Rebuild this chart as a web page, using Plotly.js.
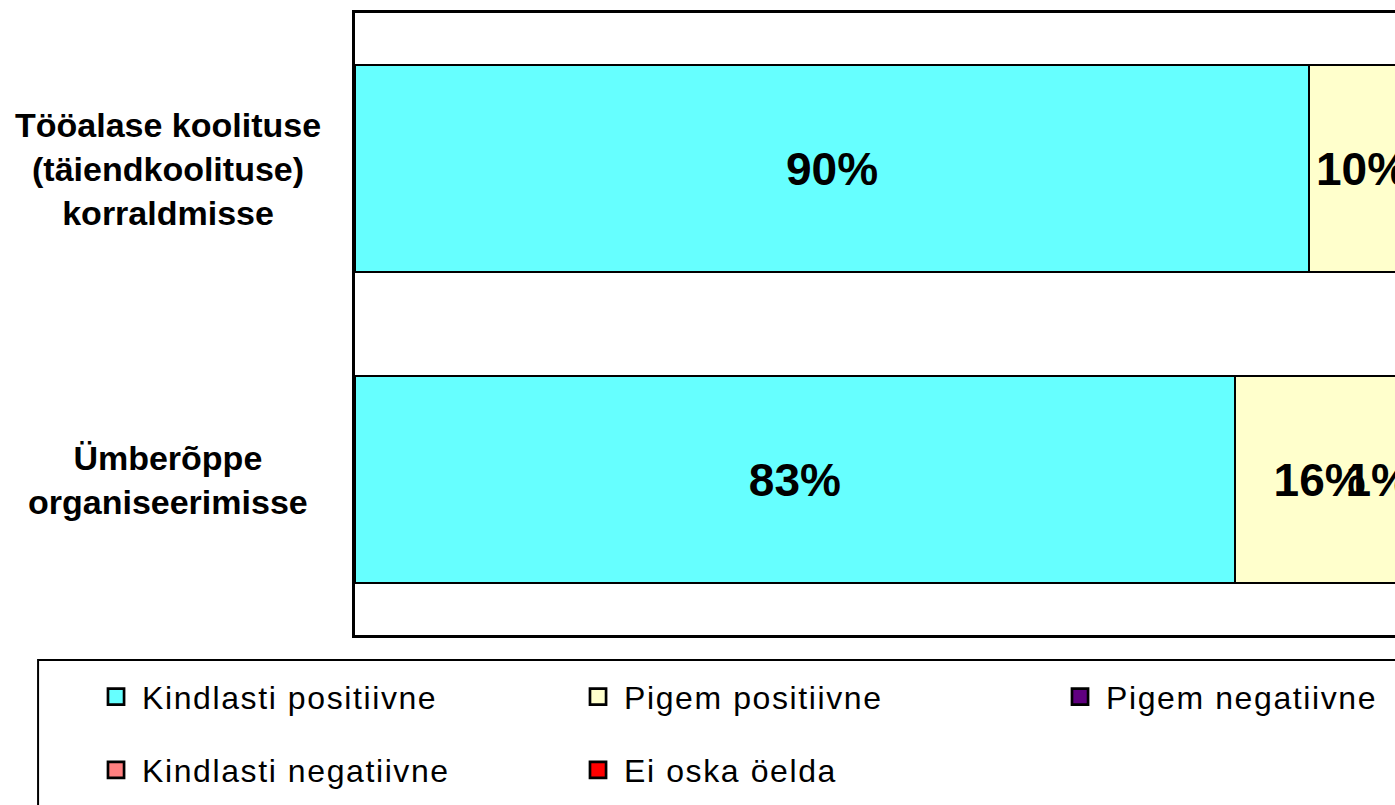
<!DOCTYPE html>
<html>
<head>
<meta charset="utf-8">
<script src="https://cdn.plot.ly/plotly-3.0.1.min.js"></script>
<style>
  html, body { margin: 0; padding: 0; overflow: hidden; background: #fff; }
  #chart { width: 1912px; height: 900px; }
  .legendtext { letter-spacing: 1.6px; transform: translateY(-9px); }
  .legend .legendpoints path { transform: translate(26px, 0px) scale(1.34); }
</style>
</head>
<body>
<div id="chart"></div>
<script>
// ---- data ----
const categories = ['Tööalase koolituse (täiendkoolituse) korraldmisse', 'Ümberõppe organiseerimisse'];
const categoryLabels = ['Tööalase koolituse<br>(täiendkoolituse)<br>korraldmisse', 'Ümberõppe<br>organiseerimisse'];
const seriesNames = ['Kindlasti positiivne', 'Pigem positiivne', 'Pigem negatiivne', 'Kindlasti negatiivne', 'Ei oska öelda'];
const kindlastiPositiivne = [90, 83];
const pigemPositiivne = [10, 16];
const pigemNegatiivne = [0, 1];
const kindlastiNegatiivne = [0, 0];
const eiOskaOelda = [0, 0];
const seriesColors = ['#66FFFF', '#FFFFCC', '#600080', '#FF8080', '#FF0000'];

const seriesValues = [kindlastiPositiivne, pigemPositiivne, pigemNegatiivne, kindlastiNegatiivne, eiOskaOelda];

const traces = seriesValues.map((vals, i) => ({
  type: 'bar',
  orientation: 'h',
  name: '<span style="font-size:32px">' + seriesNames[i] + '</span>',
  y: categories,
  x: vals,
  text: vals.map(v => v > 0 ? v + '%' : ''),
  textposition: 'inside',
  insidetextanchor: i === 2 ? 'end' : 'middle',
  constraintext: 'none',
  textangle: 0,
  textfont: { family: 'Liberation Sans, Arial', size: 46, color: '#000', weight: 700 },
  marker: { color: seriesColors[i], line: { color: '#000', width: 2 } },
  hoverinfo: 'none'
}));

const annotations = categories.map((c, i) => ({
  xref: 'paper', yref: 'y',
  x: -0.1217, y: c,
  xanchor: 'center', yanchor: 'middle',
  align: 'center',
  showarrow: false,
  text: categoryLabels[i],
  font: { family: 'Liberation Sans, Arial', size: 34, color: '#000', weight: 700 }
}));

const layout = {
  width: 1912,
  height: 900,
  margin: { l: 355, r: 20, t: 13, b: 265, pad: 0 },
  paper_bgcolor: '#fff',
  plot_bgcolor: '#fff',
  barmode: 'stack',
  bargap: 0.335,
  showlegend: true,
  xaxis: {
    range: [0, 145],
    showgrid: false, zeroline: false,
    showticklabels: false, ticks: '',
    showline: true, mirror: true, linecolor: '#000', linewidth: 3,
    fixedrange: true
  },
  yaxis: {
    type: 'category',
    categoryorder: 'array', categoryarray: categories,
    range: [1.5, -0.5],
    showgrid: false, zeroline: false,
    showticklabels: false, ticks: '',
    showline: true, mirror: true, linecolor: '#000', linewidth: 3,
    fixedrange: true
  },
  legend: {
    orientation: 'h',
    x: -0.1724, xanchor: 'left',
    y: -0.0322, yanchor: 'top',
    bgcolor: 'rgba(0,0,0,0)',
    borderwidth: 0,
    font: { family: 'Liberation Sans, Arial', size: 54, color: '#000' },
    itemwidth: 42,
    entrywidth: 425, entrywidthmode: 'pixels',
    traceorder: 'normal',
    itemclick: false, itemdoubleclick: false
  },
  shapes: [{
    type: 'rect', xref: 'paper', yref: 'paper',
    x0: -0.2062, x1: 0.8, y0: -0.0402, y1: -0.4,
    line: { color: '#000', width: 2 }, fillcolor: 'rgba(0,0,0,0)', layer: 'below'
  }],
  annotations: annotations
};

Plotly.newPlot('chart', traces, layout, { displayModeBar: false, staticPlot: true });
</script>
</body>
</html>
